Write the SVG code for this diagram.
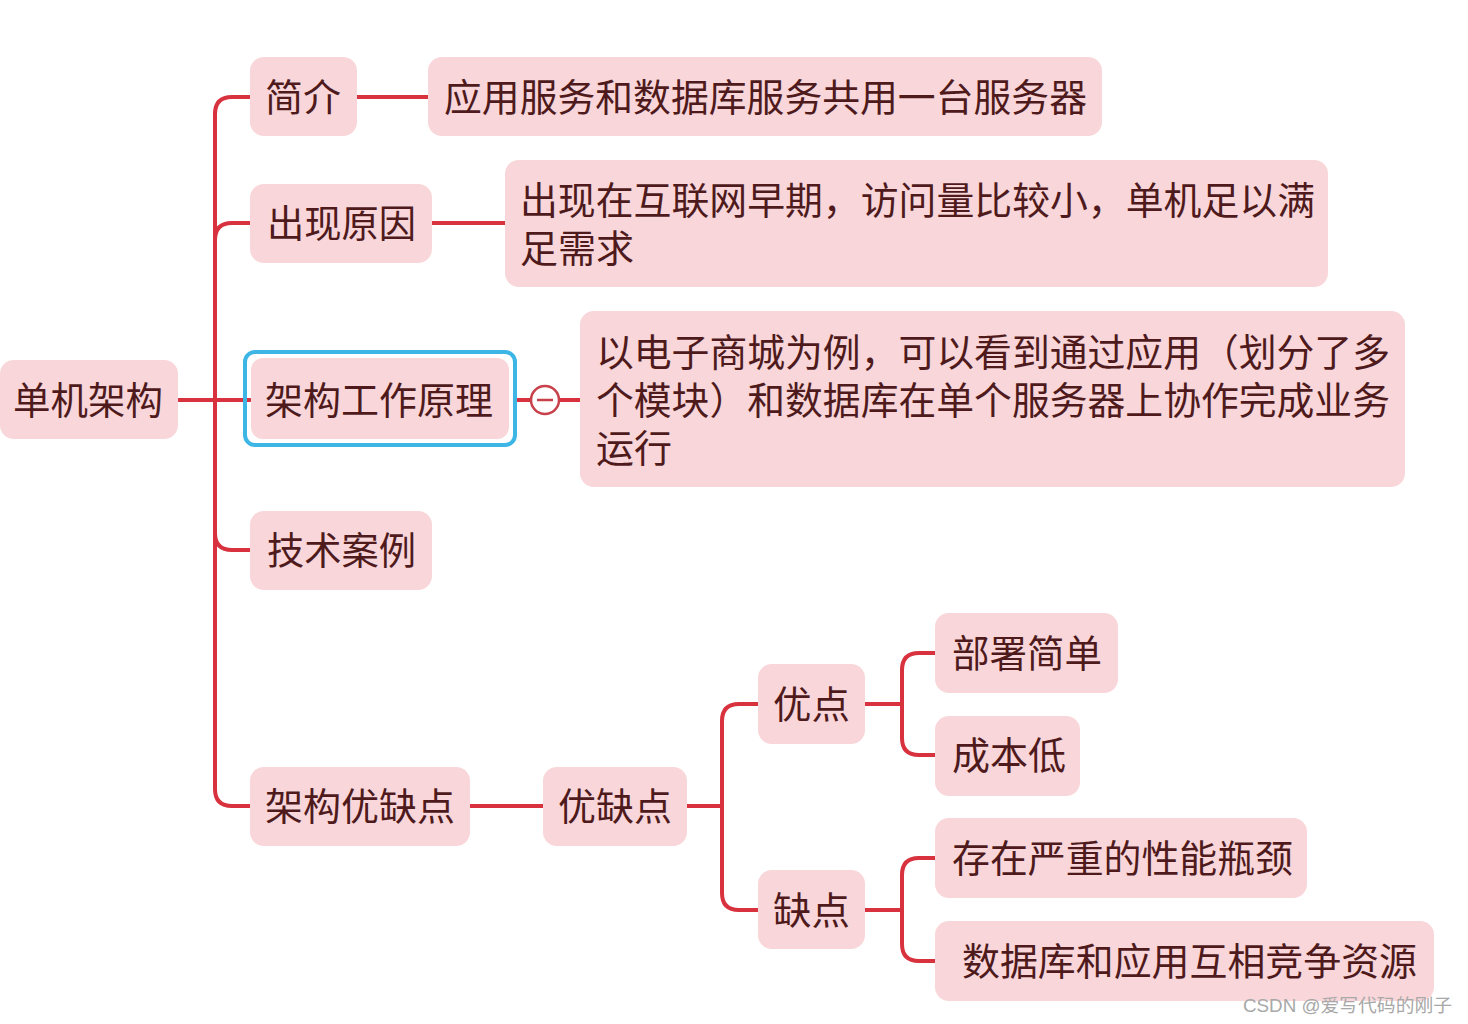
<svg xmlns="http://www.w3.org/2000/svg" width="1468" height="1024" viewBox="0 0 1468 1024">
<style>
.box{fill:#f9d6d9;}
.t{font-family:"Noto Sans CJK SC","Noto Sans",sans-serif;font-size:38px;fill:#4e1a1c;}
.c{fill:none;stroke:#d8323f;stroke-width:4;stroke-linecap:round;stroke-linejoin:round;}
.wm{font-family:"Liberation Sans","Noto Sans CJK SC",sans-serif;font-size:18px;fill:#a8a8a8;}
</style>
<rect width="1468" height="1024" fill="#ffffff"/>
<g id="connectors">
<path class="c" d="M178 400 H250"/>
<path class="c" d="M250 97 H232 Q215 97 215 114 V789 Q215 806 232 806 H250"/>
<path class="c" d="M215 240 Q215 223 232 223 H250"/>
<path class="c" d="M215 533 Q215 550 232 550 H250"/>
<path class="c" d="M357 97 H428"/>
<path class="c" d="M432 223 H505"/>
<path class="c" d="M516 400 H530"/>
<path class="c" d="M560 400 H580"/>
<path class="c" d="M470 806 H543"/>
<path class="c" d="M687 806 H722"/>
<path class="c" d="M758 704 H739 Q722 704 722 721 V893 Q722 910 739 910 H758"/>
<path class="c" d="M865 704 H902"/>
<path class="c" d="M935 653 H919 Q902 653 902 670 V738 Q902 755 919 755 H935"/>
<path class="c" d="M865 910 H902"/>
<path class="c" d="M935 858 H919 Q902 858 902 875 V944 Q902 961 919 961 H935"/>
<circle cx="545" cy="400" r="14" fill="#ffffff" stroke="#c8404a" stroke-width="2.5"/>
<path d="M537 400 H553" stroke="#c8404a" stroke-width="2.5"/>
</g>
<g id="root">
<rect class="box" x="0" y="360" width="178" height="79" rx="14"/>
<text class="t" x="13" y="414" textLength="150" lengthAdjust="spacingAndGlyphs">单机架构</text>
</g>
<g id="n-intro">
<rect class="box" x="250" y="57" width="107" height="79" rx="14"/>
<text class="t" x="265" y="111" textLength="76" lengthAdjust="spacingAndGlyphs">简介</text>
</g>
<g id="n-intro-d">
<rect class="box" x="428" y="57" width="674" height="79" rx="14"/>
<text class="t" x="444" y="111" textLength="643" lengthAdjust="spacingAndGlyphs">应用服务和数据库服务共用一台服务器</text>
</g>
<g id="n-reason">
<rect class="box" x="250" y="184" width="182" height="79" rx="14"/>
<text class="t" x="267" y="237" textLength="149" lengthAdjust="spacingAndGlyphs">出现原因</text>
</g>
<g id="n-reason-d">
<rect class="box" x="505" y="160" width="823" height="127" rx="14"/>
<text class="t" x="520" y="214" textLength="795" lengthAdjust="spacingAndGlyphs">出现在互联网早期，访问量比较小，单机足以满</text>
<text class="t" x="520" y="262" textLength="114" lengthAdjust="spacingAndGlyphs">足需求</text>
</g>
<g id="n-principle">
<rect x="245" y="352" width="270" height="93" rx="10" fill="none" stroke="#3db6e6" stroke-width="4"/>
<rect class="box" x="251" y="358" width="258" height="81" rx="12"/>
<text class="t" x="265" y="414" textLength="228" lengthAdjust="spacingAndGlyphs">架构工作原理</text>
</g>
<g id="n-principle-d">
<rect class="box" x="580" y="311" width="825" height="176" rx="14"/>
<text class="t" x="596" y="366" textLength="794" lengthAdjust="spacingAndGlyphs">以电子商城为例，可以看到通过应用（划分了多</text>
<text class="t" x="596" y="414" textLength="794" lengthAdjust="spacingAndGlyphs">个模块）和数据库在单个服务器上协作完成业务</text>
<text class="t" x="596" y="462" textLength="76" lengthAdjust="spacingAndGlyphs">运行</text>
</g>
<g id="n-case">
<rect class="box" x="250" y="511" width="182" height="79" rx="14"/>
<text class="t" x="267" y="564" textLength="149" lengthAdjust="spacingAndGlyphs">技术案例</text>
</g>
<g id="n-proscons">
<rect class="box" x="250" y="767" width="220" height="79" rx="14"/>
<text class="t" x="265" y="820" textLength="190" lengthAdjust="spacingAndGlyphs">架构优缺点</text>
</g>
<g id="n-pc">
<rect class="box" x="543" y="767" width="144" height="79" rx="14"/>
<text class="t" x="558" y="820" textLength="114" lengthAdjust="spacingAndGlyphs">优缺点</text>
</g>
<g id="n-pros">
<rect class="box" x="758" y="664" width="107" height="80" rx="14"/>
<text class="t" x="773" y="718" textLength="77" lengthAdjust="spacingAndGlyphs">优点</text>
</g>
<g id="n-cons">
<rect class="box" x="758" y="870" width="107" height="79" rx="14"/>
<text class="t" x="773" y="924" textLength="77" lengthAdjust="spacingAndGlyphs">缺点</text>
</g>
<g id="n-p1">
<rect class="box" x="935" y="613" width="183" height="80" rx="14"/>
<text class="t" x="952" y="667" textLength="150" lengthAdjust="spacingAndGlyphs">部署简单</text>
</g>
<g id="n-p2">
<rect class="box" x="935" y="716" width="145" height="80" rx="14"/>
<text class="t" x="952" y="769" textLength="114" lengthAdjust="spacingAndGlyphs">成本低</text>
</g>
<g id="n-c1">
<rect class="box" x="935" y="818" width="372" height="80" rx="14"/>
<text class="t" x="952" y="872" textLength="341" lengthAdjust="spacingAndGlyphs">存在严重的性能瓶颈</text>
</g>
<g id="n-c2">
<rect class="box" x="935" y="921" width="499" height="80" rx="14"/>
<text class="t" x="962" y="975" textLength="455" lengthAdjust="spacingAndGlyphs">数据库和应用互相竞争资源</text>
</g>
<text class="wm" x="1243" y="1012" textLength="209" lengthAdjust="spacingAndGlyphs">CSDN @爱写代码的刚子</text>
</svg>
